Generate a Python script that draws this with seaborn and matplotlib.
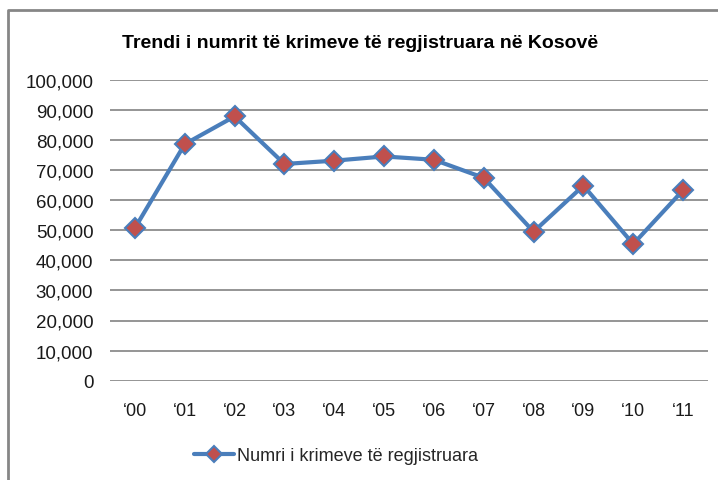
import matplotlib
matplotlib.use("Agg")
import matplotlib.pyplot as plt
from matplotlib.lines import Line2D
import numpy as np
import seaborn as sns

years = ["\u201800", "\u201801", "\u201802", "\u201803", "\u201804", "\u201805",
         "\u201806", "\u201807", "\u201808", "\u201809", "\u201810", "\u201811"]
crimes = [50700, 78600, 87800, 72000, 73100, 74500,
          73400, 67400, 49500, 64800, 45400, 63300]
y_ticks = [0, 10000, 20000, 30000, 40000, 50000, 60000, 70000, 80000, 90000, 100000]

title = "Trendi i numrit të krimeve të regjistruara në Kosovë"
series_name = "Numri i krimeve të regjistruara"

sns.set_theme(style="white")
plt.rcParams['font.family'] = ['Liberation Sans', 'DejaVu Sans']

fig = plt.figure(figsize=(7.18, 4.81), dpi=100)
ax = fig.add_axes([110 / 718, 1 - 381.7 / 481, 598 / 718, 301 / 481])

pos = np.arange(len(years))
sns.lineplot(x=pos, y=crimes, ax=ax, sort=False, color="#4A7EBB", linewidth=3,
             marker="D", markersize=10, markerfacecolor="#C0504D",
             markeredgecolor="#4A7EBB", markeredgewidth=1.5, label=series_name,
             zorder=3)

ax.set_xlim(-0.5, len(years) - 0.5)
ax.set_ylim(0, 100000)
ax.set_yticks(y_ticks)
ax.set_yticklabels([f"{v:,}" for v in y_ticks], fontsize=13.5, color="#1a1a1a")
ax.set_xticks(pos)
ax.set_xticklabels(years, fontsize=13, color="#1a1a1a")
ax.tick_params(axis="x", length=0, pad=15)
ax.tick_params(axis="y", length=0, pad=12)
for s in ax.spines.values():
    s.set_visible(False)
for v in y_ticks:
    ax.axhline(v, color="#8c8c8c", linewidth=1.3, zorder=1)

ax.get_legend().remove()
fig.legend(loc="center", bbox_to_anchor=(336 / 718, 1 - 457 / 481),
           frameon=False, fontsize=13, handlelength=2.2, handletextpad=0.2,
           markerscale=0.85)

fig.text(360 / 718, 1 - 44 / 481, title, ha="center", va="center",
         fontsize=14, fontweight="bold", color="black")

# chart frame (top and left edges visible)
fig.add_artist(Line2D([8 / 718, 8 / 718, 1], [0, 1 - 11 / 481, 1 - 11 / 481],
                      transform=fig.transFigure, color="#868686", linewidth=2))

fig.savefig("out.png", dpi=100)
